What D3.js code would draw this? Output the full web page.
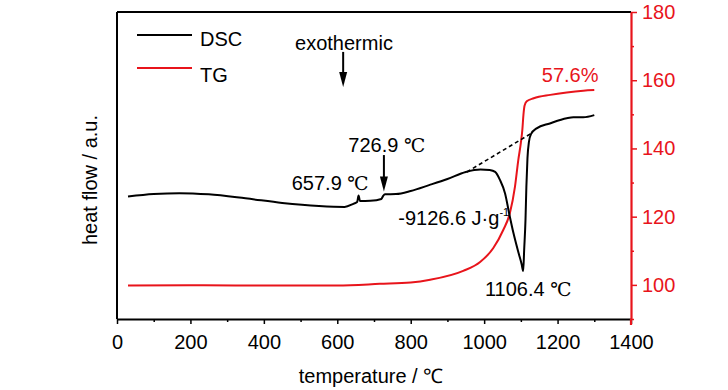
<!DOCTYPE html>
<html>
<head>
<meta charset="utf-8">
<script src="https://cdn.jsdelivr.net/npm/d3@7/dist/d3.min.js"></script>
<style>
  html, body { margin: 0; padding: 0; background: #fff; }
  svg { display: block; }
  text { font-family: "Liberation Sans", Arial, sans-serif; }
</style>
</head>
<body>
<svg id="chart" width="728" height="390"></svg>
<script>
// ---------------- data ----------------
const dscTemp  = [30, 100, 170, 250, 350, 450, 550, 620, 645, 654, 658, 662, 690, 720, 725, 730, 760, 800, 850, 900, 950, 990, 1015, 1030, 1043, 1057, 1069, 1080, 1094, 1102, 1106.4, 1109, 1112.6, 1115, 1118, 1122, 1128, 1143, 1179, 1225, 1243, 1270, 1300];
const dscValue = [39.9, 40.7, 41.0, 40.6, 39.3, 37.8, 36.8, 36.5, 37.6, 38.1, 40.2, 38.4, 38.5, 39.1, 40.1, 40.6, 40.7, 41.7, 43.6, 45.6, 47.9, 48.7, 48.5, 47.9, 45.3, 40.9, 33.9, 27.9, 21.4, 17.9, 15.6, 22.5, 32.2, 43.0, 52.4, 57.7, 60.3, 62.1, 63.7, 65.4, 65.7, 65.7, 66.4];

const tgTemp  = [30, 200, 444, 600, 716, 800, 853, 943, 989, 1025, 1052, 1070, 1084, 1093, 1100, 1104, 1107, 1110, 1116, 1135, 1180, 1225, 1270, 1300];
const tgValue = [99.85, 99.9, 99.8, 99.85, 100.3, 100.7, 101.5, 104.1, 106.7, 110.8, 116.1, 121.0, 128.8, 136.6, 141.6, 145.4, 149.8, 152.5, 153.8, 154.7, 155.7, 156.4, 156.9, 157.1];

// extrapolated baseline (dashed) in DSC units
const baselineTemp  = [953, 1129];
const baselineValue = [47.9, 60.5];

const xMajorTicks = [0, 200, 400, 600, 800, 1000, 1200, 1400];
const xMinorTicks = [100, 300, 500, 700, 900, 1100, 1300];
const yRMajorTicks = [100, 120, 140, 160, 180];
const yRMinorTicks = [90, 110, 130, 150, 170];

const seriesNames = ["DSC", "TG"];
const xTitle = "temperature / \u2103";
const yLeftTitle = "heat flow / a.u.";

// annotations anchored in data coordinates
const dscLabels = [
  { num: "657.9 ", unit: "\u2103", t: 476, v: 42.0 },
  { num: "726.9 ", unit: "\u2103", t: 630, v: 54.3 },
  { num: "1106.4 ", unit: "\u2103", t: 1002, v: 7.5 }
];
const enthalpyLabel = { text: "-9126.6 J\u00b7g", sup: "-1", t: 766, v: 30.6 };
const tgLabel = { text: "57.6%", t: 1157, v: 159.6 };
const exoLabel = { text: "exothermic", t: 485, v: 87.6 };
const arrows = [
  { t: 616, v0: 87.0, v1: 75.6 },
  { t: 727, v0: 53.4, v1: 41.5 }
];

// ---------------- layout ----------------
const svg = d3.select("#chart");
const L = 117, R = 631, T = 12, B = 319;
const red = "#e8141b";

const x = d3.scaleLinear().domain([0, 1400]).range([L, R]);
const yL = d3.scaleLinear().domain([0, 100]).range([B, T]);
const yR = d3.scaleLinear().domain([90, 180]).range([B, T]);

// frame: top + left
svg.append("line").attr("x1", L).attr("x2", R).attr("y1", T).attr("y2", T)
  .attr("stroke", "#000").attr("stroke-width", 2);
svg.append("line").attr("x1", L).attr("x2", L).attr("y1", T).attr("y2", B)
  .attr("stroke", "#000").attr("stroke-width", 2);

// bottom axis
const gx = svg.append("g").attr("transform", `translate(0,${B})`);
gx.call(d3.axisBottom(x).tickValues(xMajorTicks).tickSize(5).tickSizeOuter(0).tickFormat(d3.format("d")));
gx.select(".domain").attr("stroke", "#000").attr("stroke-width", 2);
gx.selectAll(".tick line").attr("stroke", "#000").attr("stroke-width", 1.5);
gx.selectAll(".tick text").attr("font-size", 20).attr("fill", "#000").attr("dy", null).attr("y", 30)
  .attr("font-family", "Liberation Sans, Arial, sans-serif");
const gxm = svg.append("g").attr("transform", `translate(0,${B})`);
gxm.call(d3.axisBottom(x).tickValues(xMinorTicks).tickSize(3).tickFormat(""));
gxm.select(".domain").remove();
gxm.selectAll(".tick line").attr("stroke", "#000").attr("stroke-width", 1.5);

// right axis (red)
const gy = svg.append("g").attr("transform", `translate(${R},0)`);
gy.call(d3.axisRight(yR).tickValues(yRMajorTicks).tickSize(6).tickSizeOuter(0).tickFormat(d3.format("d")));
gy.select(".domain").attr("stroke", red).attr("stroke-width", 2.2);
gy.selectAll(".tick line").attr("stroke", red).attr("stroke-width", 1.5);
gy.selectAll(".tick text").attr("font-size", 20).attr("fill", red).attr("x", 11)
  .attr("font-family", "Liberation Sans, Arial, sans-serif");
const gym = svg.append("g").attr("transform", `translate(${R},0)`);
gym.call(d3.axisRight(yR).tickValues(yRMinorTicks).tickSize(3).tickFormat(""));
gym.select(".domain").remove();
gym.selectAll(".tick line").attr("stroke", red).attr("stroke-width", 1.5);
svg.append("line").attr("x1", R).attr("x2", R).attr("y1", B).attr("y2", B + 6)
  .attr("stroke", red).attr("stroke-width", 2.2);

// axis titles
svg.append("text").attr("x", (L + R) / 2 - 3).attr("y", 383).attr("text-anchor", "middle")
  .attr("font-size", 20).attr("fill", "#000").text(xTitle);
svg.append("text").attr("transform", `translate(97,180) rotate(-90)`).attr("text-anchor", "middle")
  .attr("font-size", 20).attr("fill", "#000").text(yLeftTitle);

// curves
const dscData = dscTemp.map((t, i) => [t, dscValue[i]]);
const tgData = tgTemp.map((t, i) => [t, tgValue[i]]);
const baseData = baselineTemp.map((t, i) => [t, baselineValue[i]]);

svg.append("path").datum(tgData)
  .attr("d", d3.line().x(d => x(d[0])).y(d => yR(d[1])).curve(d3.curveMonotoneX))
  .attr("fill", "none").attr("stroke", red).attr("stroke-width", 2);

svg.append("path").datum(dscData)
  .attr("d", d3.line().x(d => x(d[0])).y(d => yL(d[1])).curve(d3.curveMonotoneX))
  .attr("fill", "none").attr("stroke", "#000").attr("stroke-width", 2);

svg.append("path").datum(baseData)
  .attr("d", d3.line().x(d => x(d[0])).y(d => yL(d[1])))
  .attr("fill", "none").attr("stroke", "#000").attr("stroke-width", 1.6)
  .attr("stroke-dasharray", "4,3");

// legend
const legend = svg.append("g");
[[seriesNames[0], "#000", 35, 46], [seriesNames[1], red, 68, 82]].forEach(([name, col, ly, ty]) => {
  legend.append("line").attr("x1", 137).attr("x2", 192).attr("y1", ly).attr("y2", ly)
    .attr("stroke", col).attr("stroke-width", 2);
  legend.append("text").attr("x", 200).attr("y", ty).attr("font-size", 20).attr("fill", "#000").text(name);
});

// annotations
const unitFont = "'DejaVu Serif', 'Noto Serif CJK SC', 'Noto Sans CJK SC', serif";
dscLabels.forEach(a => {
  const t = svg.append("text").attr("x", x(a.t)).attr("y", yL(a.v)).attr("font-size", 20).attr("fill", "#000");
  t.append("tspan").text(a.num);
  t.append("tspan").attr("font-family", unitFont).attr("font-size", 19).text(a.unit);
});
{
  const t = svg.append("text").attr("x", x(enthalpyLabel.t)).attr("y", yL(enthalpyLabel.v))
    .attr("font-size", 20).attr("fill", "#000");
  t.append("tspan").text(enthalpyLabel.text);
  t.append("tspan").attr("font-size", 11).attr("dy", -9).text(enthalpyLabel.sup);
}
svg.append("text").attr("x", x(tgLabel.t)).attr("y", yR(tgLabel.v)).attr("font-size", 20)
  .attr("fill", red).text(tgLabel.text);
svg.append("text").attr("x", x(exoLabel.t)).attr("y", yL(exoLabel.v)).attr("font-size", 20)
  .attr("fill", "#000").text(exoLabel.text);

arrows.forEach(a => {
  const ax = x(a.t), y0 = yL(a.v0), y1 = yL(a.v1);
  const headLen = 15, halfW = 4;
  svg.append("line").attr("x1", ax).attr("x2", ax).attr("y1", y0).attr("y2", y1 - headLen + 1)
    .attr("stroke", "#000").attr("stroke-width", 2);
  svg.append("path")
    .attr("d", `M${ax},${y1} L${ax - halfW},${y1 - headLen} L${ax + halfW},${y1 - headLen} Z`)
    .attr("fill", "#000");
});
</script>
</body>
</html>
